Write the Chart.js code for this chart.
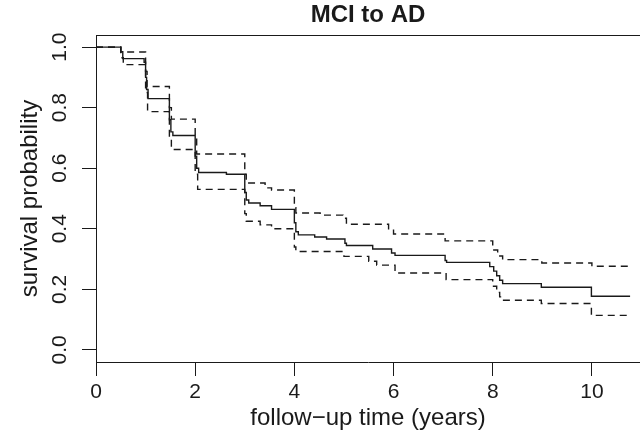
<!DOCTYPE html>
<html>
<head>
<meta charset="utf-8">
<script src="https://cdn.jsdelivr.net/npm/chart.js@4/dist/chart.umd.min.js"></script>
<style>
  html, body { margin: 0; padding: 0; background: #fff; }
  canvas { display: block; }
</style>
</head>
<body>
<canvas id="km" width="640" height="433"></canvas>
<script>
// Kaplan-Meier estimate, MCI to AD
const survTime = [0, 0.50, 0.54, 0.97, 1.00, 1.02, 1.05, 1.48, 1.51, 1.55, 2.00, 2.03, 2.07, 2.63, 3.00, 3.03, 3.08, 3.31, 3.54, 4.00, 4.03, 4.08, 4.41, 4.65, 5.02, 5.05, 5.58, 5.96, 6.03, 7.04, 7.07, 7.94, 8.02, 8.08, 8.14, 8.20, 8.98, 9.99, 10.77];
const survProb = [1.000, 0.985, 0.962, 0.950, 0.900, 0.860, 0.830, 0.760, 0.720, 0.708, 0.640, 0.600, 0.586, 0.580, 0.520, 0.495, 0.485, 0.476, 0.464, 0.420, 0.390, 0.380, 0.373, 0.366, 0.352, 0.345, 0.333, 0.320, 0.312, 0.295, 0.289, 0.275, 0.260, 0.245, 0.230, 0.219, 0.207, 0.177, 0.177];

// upper confidence band
const upperTime = [0, 0.50, 1.00, 1.03, 1.48, 1.52, 2.00, 2.03, 3.00, 3.03, 3.41, 3.54, 4.00, 4.03, 4.52, 4.98, 5.05, 5.90, 6.00, 7.04, 8.00, 8.10, 8.20, 8.99, 10.00, 10.77];
const upperProb = [1.000, 0.984, 0.920, 0.870, 0.800, 0.762, 0.700, 0.647, 0.580, 0.551, 0.535, 0.528, 0.470, 0.452, 0.445, 0.435, 0.415, 0.395, 0.383, 0.360, 0.330, 0.310, 0.298, 0.287, 0.276, 0.276];

// lower confidence band
const lowerTime = [0, 0.50, 0.55, 1.00, 1.04, 1.48, 1.52, 2.00, 2.05, 3.00, 3.03, 3.31, 3.54, 4.00, 4.03, 5.00, 5.50, 5.66, 6.03, 7.06, 8.00, 8.08, 8.14, 8.20, 8.98, 9.99, 10.77];
const lowerProb = [1.000, 0.965, 0.942, 0.850, 0.787, 0.700, 0.662, 0.580, 0.530, 0.450, 0.425, 0.413, 0.400, 0.340, 0.325, 0.309, 0.293, 0.280, 0.254, 0.232, 0.210, 0.190, 0.175, 0.164, 0.153, 0.114, 0.114];

const xTicks = [0, 2, 4, 6, 8, 10];
const yTicks = [0, 0.2, 0.4, 0.6, 0.8, 1.0];

const ink = '#1a1a1a';
const fontFamily = '"Liberation Sans", Arial, Helvetica, sans-serif';

// turn two arrays into {x, y} points
const toPoints = (ts, ps) => ts.map((t, i) => ({ x: t, y: ps[i] }));

// draws the top edge of the R style box (left/bottom come from the axis borders)
const boxTop = {
    id: 'boxTop',
    afterDraw(chart) {
        const { ctx, chartArea } = chart;
        ctx.save();
        ctx.strokeStyle = ink;
        ctx.lineWidth = 1;
        ctx.beginPath();
        ctx.moveTo(chartArea.left, chartArea.top + 0.5);
        ctx.lineTo(chartArea.right, chartArea.top + 0.5);
        ctx.stroke();
        ctx.restore();
    }
};

const line = (label, ts, ps, dash) => ({
    label: label,
    data: toPoints(ts, ps),
    borderColor: ink,
    borderWidth: 1.4,
    borderDash: dash,
    pointRadius: 0,
    stepped: true,
    fill: false
});

new Chart(document.getElementById('km').getContext('2d'), {
    type: 'line',
    data: {
        datasets: [
            line('survival', survTime, survProb, []),
            line('upper 95% CI', upperTime, upperProb, [7, 5]),
            line('lower 95% CI', lowerTime, lowerProb, [7, 5])
        ]
    },
    options: {
        responsive: false,
        animation: false,
        devicePixelRatio: 1,
        layout: { padding: 0 },
        plugins: {
            legend: { display: false },
            tooltip: { enabled: false },
            title: {
                display: true,
                text: 'MCI to AD',
                fullSize: false,
                color: ink,
                font: { family: fontFamily, size: 24, weight: 'bold', lineHeight: 1.2 },
                padding: { top: 1, bottom: 5.2 }
            }
        },
        scales: {
            x: {
                type: 'linear',
                min: 0,
                max: 10.97,
                afterBuildTicks: s => { s.ticks = xTicks.map(v => ({ value: v })); },
                afterFit: s => { s.height = 71; },
                grid: { drawOnChartArea: false, drawTicks: true, tickLength: 14, color: ink, lineWidth: 1 },
                border: { display: true, color: ink, width: 1 },
                ticks: {
                    color: ink,
                    font: { family: fontFamily, size: 21 },
                    padding: 4,
                    maxRotation: 0,
                    callback: v => String(v)
                },
                title: {
                    display: true,
                    text: 'follow\u2212up time (years)',
                    color: ink,
                    font: { family: fontFamily, size: 24, lineHeight: 1.2 },
                    padding: { top: 0, bottom: 0.6 }
                }
            },
            y: {
                type: 'linear',
                min: -0.04,
                max: 1.04,
                afterBuildTicks: s => { s.ticks = yTicks.map(v => ({ value: v })); },
                afterFit: s => { s.width = 96; },
                grid: { drawOnChartArea: false, drawTicks: true, tickLength: 14, color: ink, lineWidth: 1 },
                border: { display: true, color: ink, width: 1 },
                ticks: {
                    color: ink,
                    font: { family: fontFamily, size: 21 },
                    padding: 7.4,
                    minRotation: 90,
                    maxRotation: 90,
                    crossAlign: 'center',
                    callback: v => v.toFixed(1)
                },
                title: {
                    display: true,
                    text: 'survival probability',
                    color: ink,
                    font: { family: fontFamily, size: 24, lineHeight: 1.2 },
                    padding: { top: 15.6, bottom: 0 }
                }
            }
        }
    },
    plugins: [boxTop]
});
</script>
</body>
</html>
